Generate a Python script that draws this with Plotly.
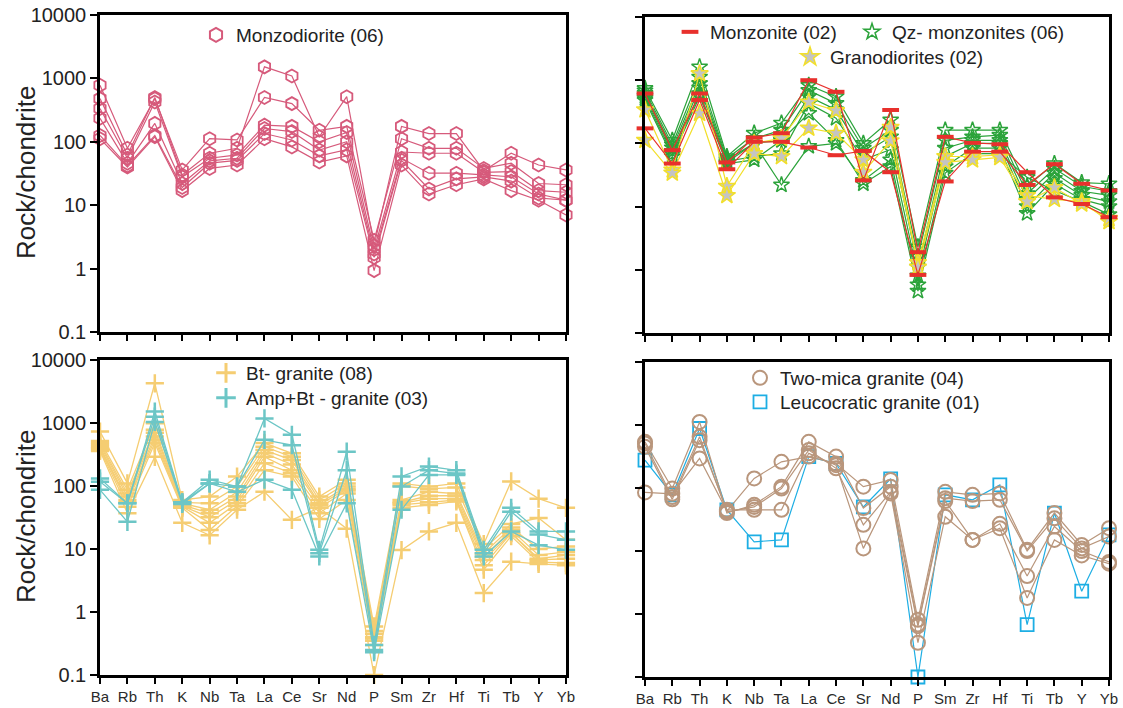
import plotly.graph_objects as go

elements = ['Ba', 'Rb', 'Th', 'K', 'Nb', 'Ta', 'La', 'Ce', 'Sr', 'Nd', 'P', 'Sm', 'Zr', 'Hf', 'Ti', 'Tb', 'Y', 'Yb']
y_tick_vals = [0.1, 1, 10, 100, 1000, 10000]
y_tick_text = ['0.1', '1', '10', '100', '1000', '10000']

# Panel 1: Monzodiorite (06)
monzodiorite = [
    [480, 62, 500, 30, 66, 79, 1520, 1090, 120, 515, 2.3, 175, 135, 135, 35, 66, 43, 36],
    [780, 79, 480, 36, 112, 107, 500, 400, 152, 175, 2.8, 112, 79, 79, 38, 46, 22, 21],
    [335, 55, 425, 28, 55, 62, 183, 175, 100, 140, 2.0, 69, 66, 66, 33, 34, 17, 16],
    [235, 46, 195, 22, 50, 55, 162, 145, 74, 100, 1.7, 55, 32, 32, 30, 28, 15, 12],
    [126, 42, 126, 19, 46, 51, 135, 107, 60, 75, 1.5, 51, 18, 26, 28, 24, 13, 12],
    [112, 40, 120, 17, 38, 43, 112, 83, 48, 60, 0.93, 43, 15, 21, 26, 17, 12, 7],
]

# Panel 2: Monzonite (02), Qz- monzonites (06), Granodiorites (02)
monzonite = [
    [616, 78, 616, 50, 124, 145, 1000, 655, 26, 338, 1.9, 127, 102, 97, 35, 14, 11, 6.8],
    [173, 48, 485, 39, 106, 106, 86, 65, 76, 35, 0.83, 25, 74, 74, 22, 47, 23, 18],
]
qz_monzonites = [
    [740, 112, 1620, 62, 145, 210, 830, 550, 100, 235, 2.3, 162, 162, 162, 21, 48, 24, 23],
    [680, 95, 1120, 58, 120, 162, 690, 430, 84, 162, 1.6, 112, 127, 135, 16, 40, 21, 17.5],
    [620, 85, 890, 55, 100, 112, 550, 340, 69, 127, 1.1, 84, 112, 112, 13, 34, 17.5, 15],
    [560, 75, 760, 52, 62, 69, 430, 250, 55, 80, 0.8, 62, 100, 100, 10, 28, 15, 12],
    [520, 68, 616, 50, 100, 22, 90, 100, 26, 55, 0.58, 43, 84, 84, 7.8, 23, 13, 10],
    [480, 62, 550, 48, 55, 112, 300, 112, 23, 43, 0.46, 34, 69, 69, 29, 18, 12, 7.5],
]
granodiorites = [
    [340, 38, 1270, 21, 100, 120, 450, 330, 35, 110, 1.3, 62, 62, 66, 15, 13, 12, 5.8],
    [112, 34, 300, 15, 69, 62, 175, 145, 55, 180, 1.1, 50, 55, 60, 12, 20, 11, 6.5],
]

# Panel 3: Bt- granite (08), Amp+Bt - granite (03)
bt_granite = [
    [730, 110, 4270, 60, 68, 141, 480, 330, 68, 126, 0.59, 110, 98, 110, 12, 118, 63, 45],
    [520, 87, 990, 55, 53, 98, 420, 290, 60, 110, 0.5, 100, 90, 95, 10, 25, 31, 14],
    [480, 76, 780, 53, 42, 80, 372, 258, 53, 98, 0.45, 60, 81, 76, 8.5, 22, 10, 11],
    [450, 68, 700, 50, 37, 68, 330, 220, 50, 90, 0.4, 55, 70, 70, 7.5, 20, 8, 9],
    [420, 60, 610, 48, 32, 60, 290, 178, 45, 85, 0.38, 53, 63, 63, 6.7, 18, 7, 8],
    [400, 55, 540, 47, 26, 53, 230, 160, 37, 76, 0.35, 50, 55, 60, 5.5, 17.8, 6.7, 7],
    [380, 47, 480, 45, 20, 48, 178, 141, 30, 60, 0.3, 45, 50, 57, 4.7, 16, 6.2, 6],
    [360, 37, 290, 26, 16.5, 42, 81, 29, 45, 21, 0.1, 9.6, 19, 26, 2.0, 6.3, 5.8, 5.5],
]
amp_bt_granite = [
    [132, 53, 1520, 55, 126, 98, 1180, 650, 9.7, 350, 0.3, 142, 204, 178, 9.7, 45, 19, 19],
    [117, 53, 1260, 55, 110, 98, 540, 445, 8.6, 178, 0.25, 98, 178, 158, 8.6, 39, 17, 14],
    [87, 27, 1040, 52, 110, 81, 126, 87, 7.6, 53, 0.23, 42, 150, 150, 7.6, 19, 11.5, 9.7],
]

# Panel 4: Two-mica granite (04), Leucocratic granite (01)
two_mica = [
    [85, 81, 295, 43, 142, 260, 315, 245, 105, 134, 0.81, 87, 78, 82, 10.5, 40, 12.5, 23],
    [540, 98, 1120, 40, 54, 105, 540, 315, 48, 105, 0.68, 69, 62, 65, 10, 33, 11, 17],
    [510, 72, 650, 42, 50, 98, 400, 205, 26, 87, 0.64, 62, 15, 27, 4.0, 24.5, 10, 6.7],
    [450, 66, 575, 45, 45, 45, 355, 230, 11, 82, 0.35, 35, 15, 23, 1.8, 15, 8.5, 6.3],
]
leucocratic = [
    [276, 78, 880, 45, 14, 15, 315, 245, 50, 140, 0.1, 78, 65, 112, 0.68, 40, 2.3, 18],
]

W, H = 1123, 708
FONT = 'Arial, Liberation Sans, sans-serif'

fig = go.Figure()


def add_group(samples, xa, ya, color, symbol, size, mlw, fill=None, mline=None, lw=1.2):
    for s in samples:
        fig.add_trace(go.Scatter(
            x=elements, y=s, xaxis=xa, yaxis=ya, mode='lines+markers',
            line=dict(color=color, width=lw),
            marker=dict(symbol=symbol, size=size,
                        color=fill if fill else color,
                        line=dict(color=mline if mline else color, width=mlw)),
            cliponaxis=False, showlegend=False, hoverinfo='skip'))


def add_legend_item(name, legend, xa, ya, color, symbol, size, mlw, fill=None, mline=None):
    fig.add_trace(go.Scatter(
        x=[None], y=[None], xaxis=xa, yaxis=ya, mode='markers', name=name,
        legend=legend,
        marker=dict(symbol=symbol, size=size, color=fill if fill else color,
                    line=dict(color=mline if mline else color, width=mlw)),
        showlegend=True))


c_md = '#D65A7B'
c_mz = '#E8302C'
c_qz = '#2BA33A'
c_gd = '#F2DF2A'
c_bt = '#F5CD72'
c_ab = '#6CC6C6'
c_tm = '#B9967C'
c_lg = '#1DAEE4'

# Panel 1
add_group(monzodiorite, 'x', 'y', c_md, 'hexagon-open', 13, 1.8)
add_legend_item('Monzodiorite (06)', 'legend', 'x', 'y', c_md, 'hexagon-open', 14, 2)

# Panel 2
add_group(qz_monzonites, 'x2', 'y2', c_qz, 'star-open', 12, 1.5)
add_group(granodiorites, 'x2', 'y2', c_gd, 'star', 13, 1.5, fill='#C4C4C4', mline=c_gd)
add_group(monzonite, 'x2', 'y2', c_mz, 'line-ew', 12, 4)
add_legend_item('Monzonite (02)', 'legend2', 'x2', 'y2', c_mz, 'line-ew', 12, 4)
add_legend_item('Qz- monzonites (06)', 'legend3', 'x2', 'y2', c_qz, 'star-open', 12, 1.5)
add_legend_item('Granodiorites (02)', 'legend4', 'x2', 'y2', c_gd, 'star', 14, 1.5, fill='#C4C4C4', mline=c_gd)

# Panel 3
add_group(bt_granite, 'x3', 'y3', c_bt, 'cross-thin', 13, 2.5, lw=1.3)
add_group(amp_bt_granite, 'x3', 'y3', c_ab, 'cross-thin', 13, 2.5, lw=1.3)
add_legend_item('Bt- granite (08)', 'legend5', 'x3', 'y3', c_bt, 'cross-thin', 14, 3)
add_legend_item('Amp+Bt - granite (03)', 'legend6', 'x3', 'y3', c_ab, 'cross-thin', 14, 3)

# Panel 4
add_group(leucocratic, 'x4', 'y4', c_lg, 'square-open', 13, 1.8)
add_group(two_mica, 'x4', 'y4', c_tm, 'circle-open', 14, 2)
add_legend_item('Two-mica granite (04)', 'legend7', 'x4', 'y4', c_tm, 'circle-open', 14, 2)
add_legend_item('Leucocratic granite (01)', 'legend8', 'x4', 'y4', c_lg, 'square-open', 13, 1.8)


def px_x(p):
    return p / W


def px_y(p):
    return 1 - p / H


def xaxis_cfg(x0, x1, anchor, labels):
    return dict(domain=[px_x(x0), px_x(x1)], anchor=anchor, type='category',
                categoryorder='array', categoryarray=elements, range=[0, len(elements) - 1],
                showline=True, linecolor='black', linewidth=2.5, mirror=True,
                ticks='outside', ticklen=6, tickwidth=1.5, tickcolor='black',
                showticklabels=labels, showgrid=False, zeroline=False,
                tickfont=dict(family=FONT, size=15, color='#2A2A2A'))


def yaxis_cfg(y0, y1, anchor, labels):
    return dict(domain=[px_y(y1), px_y(y0)], anchor=anchor, type='log', range=[-1, 4],
                tickvals=y_tick_vals, ticktext=y_tick_text,
                showline=True, linecolor='black', linewidth=2.5, mirror=True,
                ticks='outside', ticklen=7, tickwidth=1.5, tickcolor='black',
                showticklabels=labels, showgrid=False, zeroline=False,
                tickfont=dict(family=FONT, size=20, color='#222222'))


def legend_cfg(x, y, orientation='v'):
    return dict(x=px_x(x), y=px_y(y), xanchor='left', yanchor='middle',
                orientation=orientation, bgcolor='rgba(0,0,0,0)', borderwidth=0,
                font=dict(family=FONT, size=19, color='#222222'),
                itemsizing='trace', tracegroupgap=0)


fig.update_layout(
    width=W, height=H,
    margin=dict(l=0, r=0, t=0, b=0, pad=0, autoexpand=False),
    paper_bgcolor='white', plot_bgcolor='white',
    font=dict(family=FONT),
    xaxis=xaxis_cfg(100, 566, 'y', False),
    yaxis=yaxis_cfg(15, 332, 'x', True),
    xaxis2=xaxis_cfg(645, 1109, 'y2', False),
    yaxis2=yaxis_cfg(17, 333, 'x2', False),
    xaxis3=xaxis_cfg(100, 566, 'y3', True),
    yaxis3=yaxis_cfg(360, 675, 'x3', True),
    xaxis4=xaxis_cfg(645, 1109, 'y4', True),
    yaxis4=yaxis_cfg(362, 677, 'x4', False),
    legend=legend_cfg(196, 35),
    legend2=legend_cfg(670, 32),
    legend3=legend_cfg(852, 32),
    legend4=legend_cfg(790, 57),
    legend5=legend_cfg(206, 373),
    legend6=legend_cfg(206, 398),
    legend7=legend_cfg(740, 378),
    legend8=legend_cfg(740, 402),
    annotations=[
        dict(text='Rock/chondrite', x=px_x(26), y=px_y(173), xref='paper', yref='paper',
             xanchor='center', yanchor='middle',
             showarrow=False, textangle=-90, font=dict(family=FONT, size=26, color='#222222')),
        dict(text='Rock/chondrite', x=px_x(26), y=px_y(517), xref='paper', yref='paper',
             xanchor='center', yanchor='middle',
             showarrow=False, textangle=-90, font=dict(family=FONT, size=26, color='#222222')),
    ],
)

fig.write_html('out.html', config={'displayModeBar': False},
               post_script="document.body.style.margin='0';document.body.style.overflow='hidden';")
